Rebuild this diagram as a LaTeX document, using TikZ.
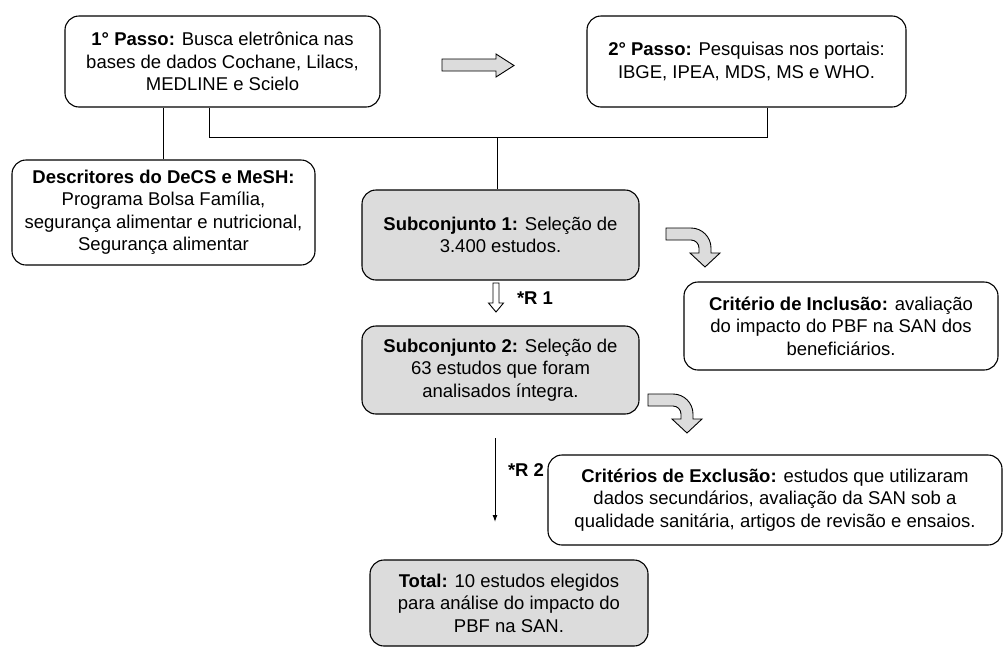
\documentclass[tikz,border=0pt]{standalone}
\usepackage{fontspec}
\setmainfont{Liberation Sans}
\usetikzlibrary{arrows.meta}
\definecolor{boxgray}{RGB}{220,220,220}
\begin{document}
\begin{tikzpicture}[x=1pt,y=-1pt,
  box/.style={draw=black, line width=1.1pt, rounded corners=14pt, align=center, inner sep=0pt,
    font=\fontsize{18.5}{22.5}\selectfont, fill=white},
  graybox/.style={box, fill=boxgray},
  conn/.style={draw=black, line width=1pt},
  blockarrow/.style={draw=black, line width=0.9pt, fill=boxgray},
  lbl/.style={font=\fontsize{18.5}{22.5}\selectfont\bfseries, inner sep=0pt},
  bendarrow/.pic={\path[blockarrow] (0,0) -- (25,0) .. controls (36,0) and (45,9) .. (45,20) -- (45,25) -- (54,25) -- (39,39) -- (24,25) -- (33,25) -- (33,20) .. controls (33,15.6) and (29.4,12) .. (25,12) -- (0,12) -- cycle;}
]
\useasboundingbox[fill=white] (0,0) rectangle (1004,646);

% boxes
\node[box, minimum width=315pt, minimum height=91pt] (p1) at (222.5,61.5)
  {\textbf{1° Passo:} Busca eletrônica nas\\bases de dados Cochane, Lilacs,\\MEDLINE e Scielo};
\node[box, minimum width=319pt, minimum height=91pt] (p2) at (746.5,61.5)
  {\textbf{2° Passo:} Pesquisas nos portais:\\IBGE, IPEA, MDS, MS e WHO.};
\node[box, minimum width=303pt, minimum height=105pt] (desc) at (163.5,212.5)
  {\textbf{Descritores do DeCS e MeSH:}\\Programa Bolsa Família,\\segurança alimentar e nutricional,\\Segurança alimentar};
\node[graybox, minimum width=277pt, minimum height=90pt] (s1) at (500.5,235)
  {\textbf{Subconjunto 1:} Seleção de\\3.400 estudos.};
\node[graybox, minimum width=277pt, minimum height=88pt] (s2) at (500.5,370)
  {\textbf{Subconjunto 2:} Seleção de\\63 estudos que foram\\analisados íntegra.};
\node[box, minimum width=314pt, minimum height=88pt] (incl) at (841,326)
  {\textbf{Critério de Inclusão:} avaliação\\do impacto do PBF na SAN dos\\beneficiários.};
\node[box, minimum width=454pt, minimum height=90pt] (excl) at (775,500)
  {\textbf{Critérios de Exclusão:} estudos que utilizaram\\dados secundários, avaliação da SAN sob a\\qualidade sanitária, artigos de revisão e ensaios.};
\node[graybox, minimum width=278pt, minimum height=86pt] (total) at (509,603)
  {\textbf{Total:} 10 estudos elegidos\\para análise do impacto do\\PBF na SAN.};

% connectors
\coordinate (ja) at (209,137);
\coordinate (jb) at (767,137);
\coordinate (jc) at (497,137);
\draw[conn] (desc.north) -- (desc.north |- p1.south);
\draw[conn] (ja |- p1.south) -- (ja) -- (jb) -- (jb |- p2.south);
\draw[conn] (jc) -- (jc |- s1.north);

% block arrows
\path[blockarrow] (442,59) -- (496,59) -- (496,54) -- (514,65.5) -- (496,77) -- (496,71) -- (442,71) -- cycle;
\pic at (666,228) {bendarrow};
\pic at (648,394) {bendarrow};
\draw[line width=0.9pt, fill=white] (493,283) -- (499,283) -- (499,303) -- (503.5,303) -- (496,312) -- (488.5,303) -- (493,303) -- cycle;

% R2 arrow
\coordinate (r2top) at (495,438);
\coordinate (r2end) at (495,522);
\draw[conn, -{Latex[length=7pt,width=5pt]}] (r2top) -- (r2end);

% labels
\node[lbl] (r1) at (535,298) {*R 1};
\node[lbl] (r2) at (526,470) {*R 2};
\end{tikzpicture}
\end{document}
